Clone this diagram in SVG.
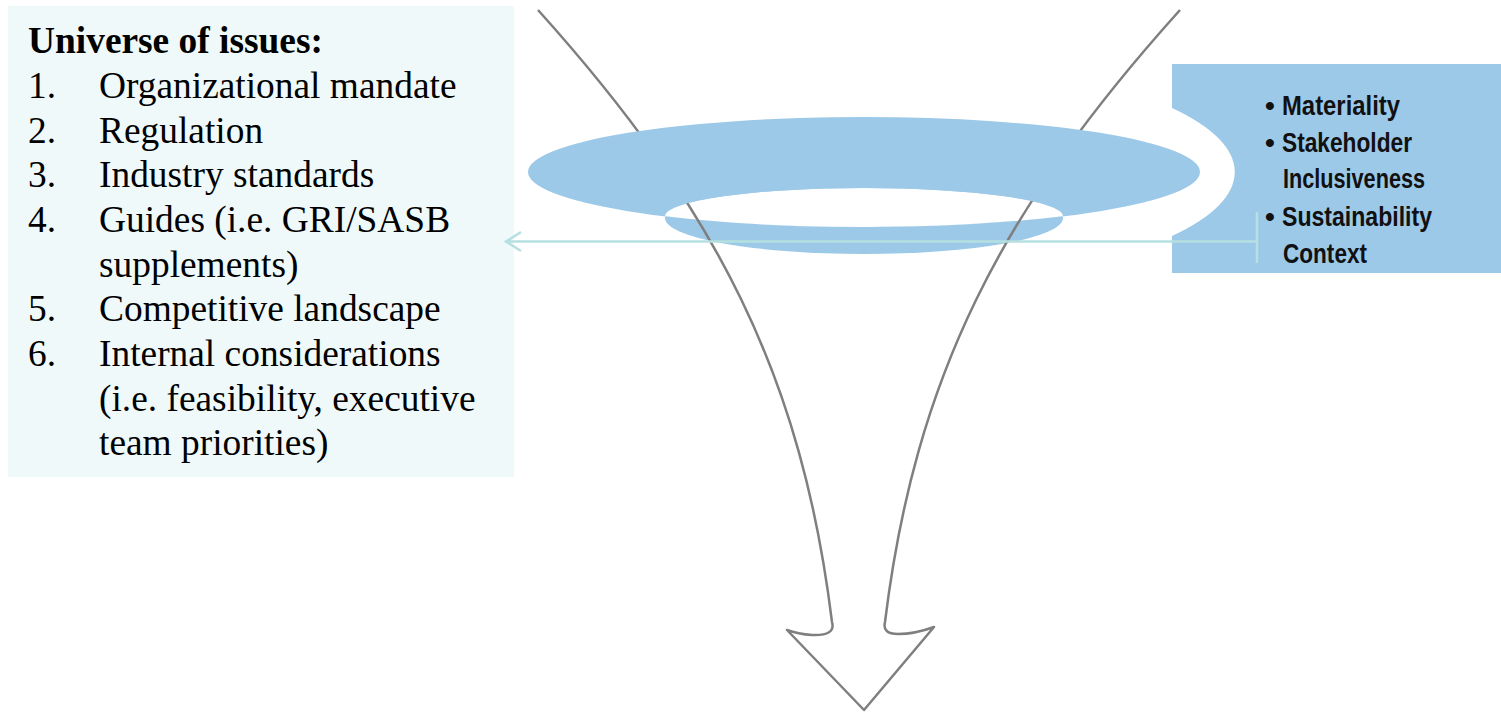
<svg xmlns="http://www.w3.org/2000/svg" width="1501" height="712" viewBox="0 0 1501 712">
  <style>
    .serif { font-family: "Liberation Serif", "Times New Roman", serif; font-size: 37.4px; fill: #000; }
    .cond { font-family: "Liberation Sans", Arial, sans-serif; font-weight: bold; font-size: 28px; fill: #111; }
    .blue { fill: #9dc9e8; }
    .funnel { fill: none; stroke: #7f7f7f; stroke-width: 2.5; stroke-linejoin: round; }
    .conn { fill: none; stroke: #b5dfe0; stroke-width: 2.5; }
  </style>
  <rect width="1501" height="712" fill="#fff"/>

  <g id="criteria-box">
    <rect x="1172" y="64" width="329" height="209" class="blue"/>
    <path d="M1172,108 A371,115 0 0 1 1172,236 Z" fill="#fff"/>
    <text class="cond" x="1265" y="115">•</text>
    <text class="cond" x="1282" y="115" textLength="118" lengthAdjust="spacingAndGlyphs">Materiality</text>
    <text class="cond" x="1265" y="152">•</text>
    <text class="cond" x="1282" y="152" textLength="130" lengthAdjust="spacingAndGlyphs">Stakeholder</text>
    <text class="cond" x="1283" y="188" textLength="142" lengthAdjust="spacingAndGlyphs">Inclusiveness</text>
    <text class="cond" x="1265" y="226">•</text>
    <text class="cond" x="1282" y="226" textLength="150" lengthAdjust="spacingAndGlyphs">Sustainability</text>
    <text class="cond" x="1283" y="263" textLength="84" lengthAdjust="spacingAndGlyphs">Context</text>
  </g>

  <g id="issues-box">
    <rect x="8" y="6" width="506" height="471" fill="#f0f9f9"/>
    <text class="serif" x="28" y="53" font-weight="bold">Universe of issues:</text>
    <text class="serif" x="28" y="98">1.</text>
    <text class="serif" x="99" y="98">Organizational mandate</text>
    <text class="serif" x="28" y="143">2.</text>
    <text class="serif" x="99" y="143">Regulation</text>
    <text class="serif" x="28" y="187">3.</text>
    <text class="serif" x="99" y="187">Industry standards</text>
    <text class="serif" x="28" y="232">4.</text>
    <text class="serif" x="99" y="232">Guides (i.e. GRI/SASB</text>
    <text class="serif" x="99" y="277">supplements)</text>
    <text class="serif" x="28" y="321">5.</text>
    <text class="serif" x="99" y="321">Competitive landscape</text>
    <text class="serif" x="28" y="366">6.</text>
    <text class="serif" x="99" y="366">Internal considerations</text>
    <text class="serif" x="99" y="411">(i.e. feasibility, executive</text>
    <text class="serif" x="99" y="455">team priorities)</text>
  </g>

  <g id="funnel">
    <ellipse cx="864" cy="218" rx="199" ry="36" class="blue"/>
    <path d="M665,216.3 A199,28.3 0 0 1 1063,216.3 A336,55 0 0 1 665,216.3 Z" fill="#fff"/>
    <path class="funnel" d="M538,10 C718,210 802,378 832,622 Q836,636 812,635 Q798,634 787,630 L864,710 L934,627 Q915,634 898,634 Q882,634 885,622 C915,378 1000,210 1180,10"/>
    <path class="blue" fill-rule="evenodd" d="M528,172 A336,55 0 0 1 1200,172 A336,55 0 0 1 528,172 Z M665,216.3 A199,28.3 0 0 1 1063,216.3 A336,55 0 0 1 665,216.3 Z"/>
  </g>

  <g id="connectors">
    <path class="conn" d="M1257,241.5 H506"/>
    <path class="conn" d="M521,232 L506,241.5 L521,251"/>
    <path class="conn" d="M1257,212 V263"/>
  </g>
</svg>
